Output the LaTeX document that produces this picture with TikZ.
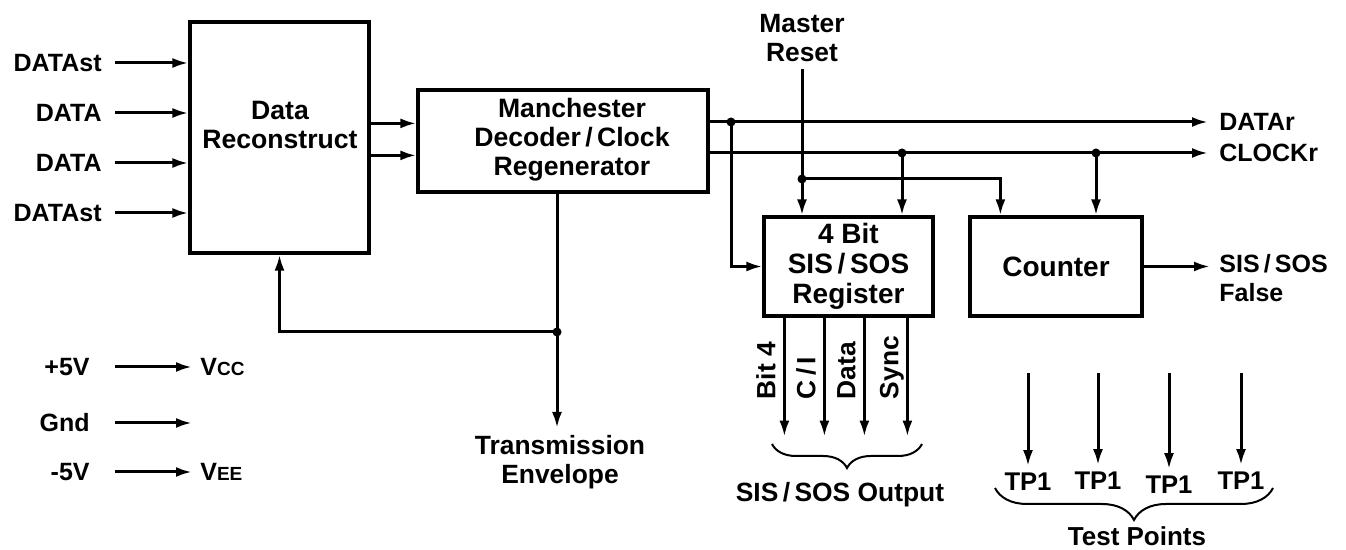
\documentclass[tikz,border=0pt]{standalone}
\usepackage{fontspec}
\setmainfont{Liberation Sans}
\usetikzlibrary{arrows.meta,positioning,calc,decorations.pathreplacing}
\tikzset{
  blockbox/.style={
    draw,
    line width=1.6pt,
    inner sep=0pt
  },
  boxtext/.style={font=\fontsize{13.3}{14.5}\selectfont\bfseries},
  bigtext/.style={font=\fontsize{14}{15}\selectfont\bfseries},
  sigtext/.style={inner sep=0pt,font=\fontsize{12.5}{14.5}\selectfont\bfseries},
  wire/.style={line width=1.5pt},
  flowarrow/.style={-{Latex[length=8pt,width=5pt]},line width=1.5pt},
  junction/.style={circle,fill,inner sep=0pt,minimum size=4.5pt},
  groupbrace/.style={decorate,decoration={brace,mirror,amplitude=#1},line width=1pt},
  groupbrace/.default=12pt
}

\begin{document}
\begin{tikzpicture}[x=0.5pt,y=-0.5pt,font=\fontsize{13.2}{14.5}\selectfont\bfseries]
\useasboundingbox (0,0) rectangle (1346,550);

% blocks
\node[blockbox,minimum width=89.5pt,minimum height=115.5pt] (recon) at (279.5,137.5) {};
\node[boxtext,align=center] (recontext) at (280,125) {Data\\Reconstruct};
\node[blockbox,minimum width=145pt,minimum height=51pt] (manch) at (563,141) {};
\node[boxtext,align=center] (manchtext) at (572,140) {Manchester\\Decoder\,/\,Clock\\Regenerator};
\node[blockbox,bigtext,minimum width=84.5pt,minimum height=49.5pt,align=center] (reg) at (848.5,266.5) {4 Bit\\SIS\,/\,SOS\\Register};
\node[blockbox,bigtext,minimum width=86pt,minimum height=49.5pt] (cntr) at (1056,266.5) {Counter};

% inputs
\foreach \y/\txt [count=\i] in {63/DATAst,113/DATA,163/DATA,213/DATAst} {
  \node[sigtext,anchor=east] (in\i) at (102,\y) {\txt};
  \draw[flowarrow] ([xshift=6.5pt]in\i.east) -- (in\i.east -| recon.west);
}
\coordinate (ro1) at ($(recon.north east)+(0,103)$);
\coordinate (ro2) at ($(recon.north east)+(0,135)$);
\draw[flowarrow] (ro1) -- (ro1 -| manch.west);
\draw[flowarrow] (ro2) -- (ro2 -| manch.west);

% outputs
\node[sigtext,anchor=west] (datar) at (1219,122) {DATAr};
\node[sigtext,anchor=west] (clockr) at (1219,153) {CLOCKr};
\draw[flowarrow] (manch.east |- datar) -- ([xshift=-5.5pt]datar.west);
\draw[flowarrow] (manch.east |- clockr) -- ([xshift=-5.5pt]clockr.west);

\node[junction] (jdata) at (731,122) {};
\node[junction] (jclk1) at (902,153) {};
\node[junction] (jclk2) at (1096,153) {};
\node[junction] (jrst) at (802,179) {};
\draw[flowarrow] (jdata.center) |- (reg.west);
\draw[flowarrow] (jclk1.center) -- (jclk1 |- reg.north);
\draw[flowarrow] (jclk2.center) -- (jclk2 |- cntr.north);

% master reset
\node[align=center] (mreset) at (802,38) {Master\\Reset};
\draw[flowarrow] (mreset.south) -- (mreset.south |- reg.north);
\draw[flowarrow] (jrst.center) -| ($(cntr.north west)+(32,0)$);

\node[sigtext,anchor=west,align=left] (sosfalse) at (1219,278) {SIS\,/\,SOS\\False};
\draw[flowarrow] (cntr.east) -- ([xshift=-4.5pt]cntr.east -| sosfalse.west);

% power
\foreach \y/\src [count=\i] in {367/+5V,423/Gnd,472/-5V} {
  \node[sigtext,anchor=east] (pw\i) at (90,\y) {\src};
}
\node[sigtext,anchor=west] (vcc) at (200,367) {V{\fontsize{9.5}{10}\selectfont CC}};
\node[sigtext,anchor=west] (vee) at (200,472) {V{\fontsize{9.5}{10}\selectfont EE}};
\coordinate (gndend) at (192,423);
\draw[flowarrow] ([xshift=12.5pt]pw1.east) -- ([xshift=-4pt]vcc.west);
\draw[flowarrow] ([xshift=12.5pt]pw2.east) -- (gndend);
\draw[flowarrow] ([xshift=12.5pt]pw3.east) -- ([xshift=-4pt]vee.west);

% envelope and feedback
\node[junction] (jenv) at (557,332) {};
\draw[wire] (manch.south -| jenv) -- (jenv.center);
\draw[flowarrow] (jenv.center) -| (recon.south);
\node[align=center,anchor=north] (envel) at (560,428) {Transmission\\Envelope};
\draw[flowarrow] (jenv.center) -- (jenv |- envel.north);

% register outputs
\foreach \dx/\txt [count=\i] in {22/{Bit 4},62/{C\,/\,I},102/Data,145/Sync} {
  \coordinate (rb\i) at ($(reg.south west)+(\dx,0)$);
  \coordinate (re\i) at ($(rb\i)+(0,119)$);
  \draw[flowarrow] (rb\i) -- (re\i);
  \node[sigtext,font=\fontsize{13.2}{14.5}\selectfont\bfseries,rotate=90,anchor=base west] (rl\i) at ($(rb\i)+(-9,82)$) {\txt};
}
\coordinate (ob1) at (772,444);
\coordinate (ob2) at (922,444);
\draw[groupbrace=12pt] (ob1) -- (ob2);
\node (sosout) at (840,495) {SIS\,/\,SOS Output};

% test points
\foreach \x/\yl [count=\i] in {1028/482,1098/481,1169/485,1241/481} {
  \coordinate (tt\i) at (\x,373);
  \node[font=\fontsize{12.8}{14.5}\selectfont\bfseries] (tp\i) at (\x,\yl) {TP1};
  \draw[flowarrow] (tt\i) -- (tp\i.north);
}
\coordinate (tb1) at (995,488);
\coordinate (tb2) at (1273,488);
\draw[groupbrace=16pt] (tb1) -- (tb2);
\node[inner sep=1pt,font=\fontsize{13}{14}\selectfont\bfseries] (testpts) at (1137,536) {Test Points};
\end{tikzpicture}
\end{document}
